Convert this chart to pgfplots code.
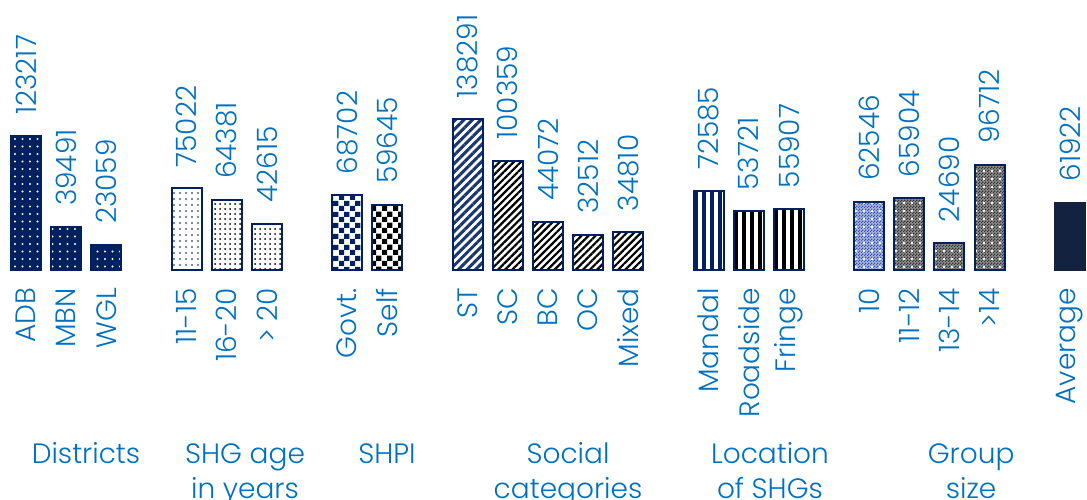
\documentclass[border=0pt]{standalone}
\usepackage{pgfplots}
\pgfplotsset{compat=1.18}
\usepackage{fontspec}
\setmainfont{Poppins}[UprightFont=* Light]
\usetikzlibrary{patterns,patterns.meta}
\definecolor{navy}{HTML}{002060}
\definecolor{txt}{HTML}{0070C0}
\definecolor{avg}{HTML}{13233F}
\definecolor{gs}{HTML}{3A52A8}
\definecolor{gsl}{HTML}{A9B5E2}
\newcommand\lbl{\fontsize{28}{35}\selectfont}
\pgfdeclarepatternformonly{bigchecker}{\pgfpointorigin}{\pgfqpoint{10.6pt}{10.6pt}}{\pgfqpoint{10.6pt}{10.6pt}}{%
  \pgfpathrectangle{\pgfpointorigin}{\pgfqpoint{5.3pt}{5.3pt}}%
  \pgfpathrectangle{\pgfqpoint{5.3pt}{5.3pt}}{\pgfqpoint{5.3pt}{5.3pt}}%
  \pgfusepath{fill}}
\pgfdeclarepatternformonly{finechecker}{\pgfpointorigin}{\pgfqpoint{3pt}{3pt}}{\pgfqpoint{3pt}{3pt}}{%
  \pgfpathrectangle{\pgfpointorigin}{\pgfqpoint{1.5pt}{1.5pt}}%
  \pgfpathrectangle{\pgfqpoint{1.5pt}{1.5pt}}{\pgfqpoint{1.5pt}{1.5pt}}%
  \pgfusepath{fill}}
\begin{document}
\begin{tikzpicture}
\begin{axis}[
  width=1087pt, height=270pt, scale only axis,
  xmin=-0.6476, xmax=26.426, ymin=0, ymax=247706,
  axis line style={draw=none}, tick style={draw=none}, major tick length=0pt,
  ytick=\empty,
  xtick={0,1,2,4,5,6,8,9,11,12,13,14,15,17,18,19,21,22,23,24,26},
  xticklabels={ADB,MBN,WGL,11-15,16-20,> 20,Govt.,Self,ST,SC,BC,OC,Mixed,Mandal,Roadside,Fringe,10,11-12,13-14,>14,Average},
  xticklabel style={rotate=90, anchor=east, inner xsep=18pt, inner ysep=0pt, font=\lbl, text=txt},
  ybar, bar width=30pt,
  point meta=explicit symbolic,
  nodes near coords,
  every node near coord/.append style={rotate=90, anchor=west, inner xsep=20pt, inner ysep=0pt, font=\lbl, text=txt},
  clip=false,
  B/.style={bar shift=0pt, draw=navy, line width=2pt},
]
\addplot[B, preaction={fill=navy}, pattern={Dots[distance=7.5pt,radius=1.1pt]}, pattern color=white]
  coordinates {(0,123217)[123217] (1,39491)[39491] (2,23059)[23059]};
\addplot[B, preaction={fill=white}, pattern={Dots[distance=6pt,radius=1.1pt]}, pattern color=navy!70]
  coordinates {(4,75022)[75022]};
\addplot[B, preaction={fill=white}, pattern={Dots[distance=5pt,radius=1pt]}, pattern color=black]
  coordinates {(5,64381)[64381] (6,42615)[42615]};
\addplot[B, preaction={fill=white}, pattern=bigchecker, pattern color=navy]
  coordinates {(8,68702)[68702]};
\addplot[B, preaction={fill=white}, pattern=bigchecker, pattern color=black]
  coordinates {(9,59645)[59645]};
\addplot[B, preaction={fill=white}, pattern={Lines[angle=45,distance=6pt,line width=3pt]}, pattern color=navy!90]
  coordinates {(11,138291)[138291]};
\addplot[B, preaction={fill=white}, pattern={Lines[angle=45,distance=5pt,line width=2.2pt]}, pattern color=black]
  coordinates {(12,100359)[100359] (13,44072)[44072] (14,32512)[32512] (15,34810)[34810]};
\addplot[B, preaction={fill=white}, pattern={Lines[angle=90,distance=8pt,line width=4.5pt]}, pattern color=navy]
  coordinates {(17,72585)[72585]};
\addplot[B, preaction={fill=white}, pattern={Lines[angle=90,distance=8pt,line width=4pt]}, pattern color=black]
  coordinates {(18,53721)[53721] (19,55907)[55907]};
\addplot[B, preaction={fill=gsl}, preaction={pattern=finechecker, pattern color=gs}, pattern={Dots[distance=8pt,radius=1.3pt]}, pattern color=white]
  coordinates {(21,62546)[62546]};
\addplot[B, preaction={fill=black!45}, preaction={pattern=finechecker, pattern color=black!80}, pattern={Dots[distance=8pt,radius=1.3pt]}, pattern color=white]
  coordinates {(22,65904)[65904] (23,24690)[24690] (24,96712)[96712]};
\addplot[bar shift=0pt, fill=avg, draw=avg, line width=2pt]
  coordinates {(26,61922)[61922]};
\coordinate (BL) at (axis cs:-0.6476,-210092);
\coordinate (TR) at (axis cs:26.426,247706);
\node[font=\lbl, text=txt, align=center, anchor=base, inner sep=0pt] at (axis cs:1.494,-177064) {Districts};
\node[font=\lbl, text=txt, align=center, anchor=base, inner sep=0pt] at (axis cs:5.455,-209174) {SHG age\\in years};
\node[font=\lbl, text=txt, align=center, anchor=base, inner sep=0pt] at (axis cs:8.991,-177064) {SHPI};
\node[font=\lbl, text=txt, align=center, anchor=base, inner sep=0pt] at (axis cs:13.50,-209174) {Social\\categories};
\node[font=\lbl, text=txt, align=center, anchor=base, inner sep=0pt] at (axis cs:18.53,-209174) {Location\\of SHGs};
\node[font=\lbl, text=txt, align=center, anchor=base, inner sep=0pt] at (axis cs:23.54,-209174) {Group\\size};
\end{axis}
\pgfresetboundingbox
\path[use as bounding box] (BL) rectangle (TR);
\end{tikzpicture}
\end{document}
